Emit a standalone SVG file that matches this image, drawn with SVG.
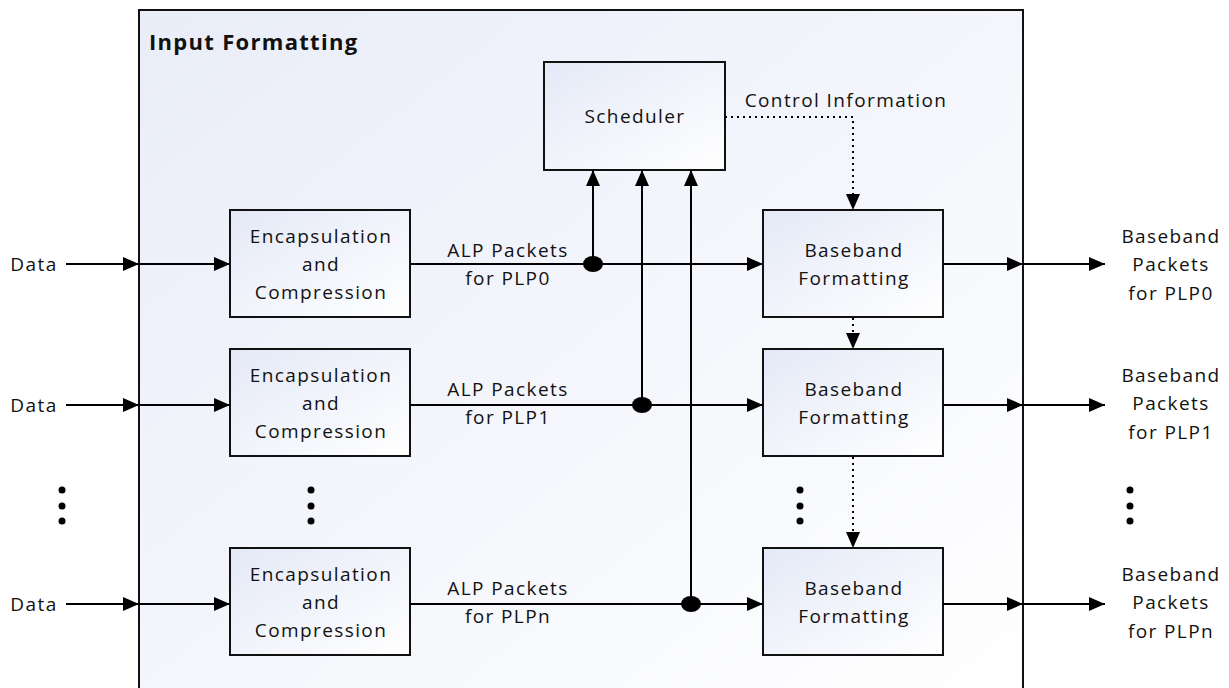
<svg xmlns="http://www.w3.org/2000/svg" width="1229" height="688" viewBox="0 0 1229 688">
<style>
text{font-family:"Open Sans","Liberation Sans",sans-serif;font-size:19px;letter-spacing:1.4px;fill:#111;text-anchor:middle}
.title{font-weight:bold;font-size:22px;letter-spacing:1.3px;text-anchor:start}
.box{fill:url(#boxg);stroke:#111;stroke-width:2}
.ln{fill:none;stroke:#000;stroke-width:2}
.dot{fill:none;stroke:#000;stroke-width:2;stroke-dasharray:2 4}
.el{fill:#000}
</style>
<defs>
<linearGradient id="frameg" x1="0" y1="0" x2="1" y2="1">
<stop offset="0" stop-color="#e9edf8"/><stop offset="1" stop-color="#ffffff"/>
</linearGradient>
<linearGradient id="boxg" x1="0" y1="0" x2="1" y2="1">
<stop offset="0" stop-color="#e4e9f7"/><stop offset="1" stop-color="#ffffff"/>
</linearGradient>
<marker id="arr" viewBox="0 0 16 14" refX="16" refY="7" markerWidth="16" markerHeight="14" markerUnits="userSpaceOnUse" orient="auto">
<path d="M0,0 L16,7 L0,14 Z" fill="#000"/>
</marker>
</defs>

<g id="frame">
<rect x="139" y="10" width="884" height="690" fill="url(#frameg)" stroke="#111" stroke-width="2"/>
<text class="title" x="149" y="50">Input Formatting</text>
</g>

<g id="scheduler">
<rect class="box" x="544" y="62" width="181" height="108"/>
<text x="635" y="123">Scheduler</text>
</g>

<g id="enc0"><rect class="box" x="230" y="210" width="180" height="107"/>
<text x="321" y="243">Encapsulation</text><text x="321" y="271">and</text><text x="321" y="299">Compression</text></g>
<g id="enc1"><rect class="box" x="230" y="349" width="180" height="107"/>
<text x="321" y="382">Encapsulation</text><text x="321" y="410">and</text><text x="321" y="438">Compression</text></g>
<g id="enc2"><rect class="box" x="230" y="548" width="180" height="107"/>
<text x="321" y="581">Encapsulation</text><text x="321" y="609">and</text><text x="321" y="637">Compression</text></g>

<g id="bb0"><rect class="box" x="763" y="210" width="180" height="107"/>
<text x="854" y="257">Baseband</text><text x="854" y="285">Formatting</text></g>
<g id="bb1"><rect class="box" x="763" y="349" width="180" height="107"/>
<text x="854" y="396">Baseband</text><text x="854" y="424">Formatting</text></g>
<g id="bb2"><rect class="box" x="763" y="548" width="180" height="107"/>
<text x="854" y="595">Baseband</text><text x="854" y="623">Formatting</text></g>

<g id="labels">
<text x="34" y="271">Data</text>
<text x="34" y="412">Data</text>
<text x="34" y="611">Data</text>
<text x="508" y="257">ALP Packets</text><text x="508" y="285">for PLP0</text>
<text x="508" y="396">ALP Packets</text><text x="508" y="424">for PLP1</text>
<text x="508" y="595">ALP Packets</text><text x="508" y="623">for PLPn</text>
<text x="1171" y="243">Baseband</text><text x="1171" y="271">Packets</text><text x="1171" y="300">for PLP0</text>
<text x="1171" y="382">Baseband</text><text x="1171" y="410">Packets</text><text x="1171" y="439">for PLP1</text>
<text x="1171" y="581">Baseband</text><text x="1171" y="609">Packets</text><text x="1171" y="638">for PLPn</text>
<text x="846" y="107">Control Information</text>
</g>

<g id="ellipses">
<circle class="el" cx="62" cy="490" r="3.5"/><circle class="el" cx="62" cy="506" r="3.5"/><circle class="el" cx="62" cy="521" r="3.5"/>
<circle class="el" cx="311" cy="490" r="3.5"/><circle class="el" cx="311" cy="506" r="3.5"/><circle class="el" cx="311" cy="521" r="3.5"/>
<circle class="el" cx="800" cy="490" r="3.5"/><circle class="el" cx="800" cy="506" r="3.5"/><circle class="el" cx="800" cy="521" r="3.5"/>
<circle class="el" cx="1130" cy="490" r="3.5"/><circle class="el" cx="1130" cy="506" r="3.5"/><circle class="el" cx="1130" cy="521" r="3.5"/>
</g>

<g id="connectors">
<line class="ln" x1="66" y1="264" x2="139" y2="264" marker-end="url(#arr)"/>
<line class="ln" x1="139" y1="264" x2="230" y2="264" marker-end="url(#arr)"/>
<line class="ln" x1="66" y1="405" x2="139" y2="405" marker-end="url(#arr)"/>
<line class="ln" x1="139" y1="405" x2="230" y2="405" marker-end="url(#arr)"/>
<line class="ln" x1="66" y1="604" x2="139" y2="604" marker-end="url(#arr)"/>
<line class="ln" x1="139" y1="604" x2="230" y2="604" marker-end="url(#arr)"/>
<line class="ln" x1="410" y1="264" x2="763" y2="264" marker-end="url(#arr)"/>
<line class="ln" x1="410" y1="405" x2="763" y2="405" marker-end="url(#arr)"/>
<line class="ln" x1="410" y1="604" x2="763" y2="604" marker-end="url(#arr)"/>
<line class="ln" x1="593" y1="264" x2="593" y2="170" marker-end="url(#arr)"/>
<line class="ln" x1="642" y1="405" x2="642" y2="170" marker-end="url(#arr)"/>
<line class="ln" x1="691" y1="604" x2="691" y2="170" marker-end="url(#arr)"/>
<ellipse cx="593" cy="264" rx="10" ry="8" fill="#000"/>
<ellipse cx="642" cy="405" rx="10" ry="8" fill="#000"/>
<ellipse cx="691" cy="604" rx="10" ry="8" fill="#000"/>
<polyline class="dot" points="725,117 853,117 853,210" marker-end="url(#arr)"/>
<line class="dot" x1="853" y1="318" x2="853" y2="349" marker-end="url(#arr)"/>
<line class="dot" x1="853" y1="457" x2="853" y2="548" marker-end="url(#arr)"/>
<line class="ln" x1="943" y1="264" x2="1023" y2="264" marker-end="url(#arr)"/>
<line class="ln" x1="1023" y1="264" x2="1105" y2="264" marker-end="url(#arr)"/>
<line class="ln" x1="943" y1="405" x2="1023" y2="405" marker-end="url(#arr)"/>
<line class="ln" x1="1023" y1="405" x2="1105" y2="405" marker-end="url(#arr)"/>
<line class="ln" x1="943" y1="604" x2="1023" y2="604" marker-end="url(#arr)"/>
<line class="ln" x1="1023" y1="604" x2="1105" y2="604" marker-end="url(#arr)"/>
</g>
</svg>
